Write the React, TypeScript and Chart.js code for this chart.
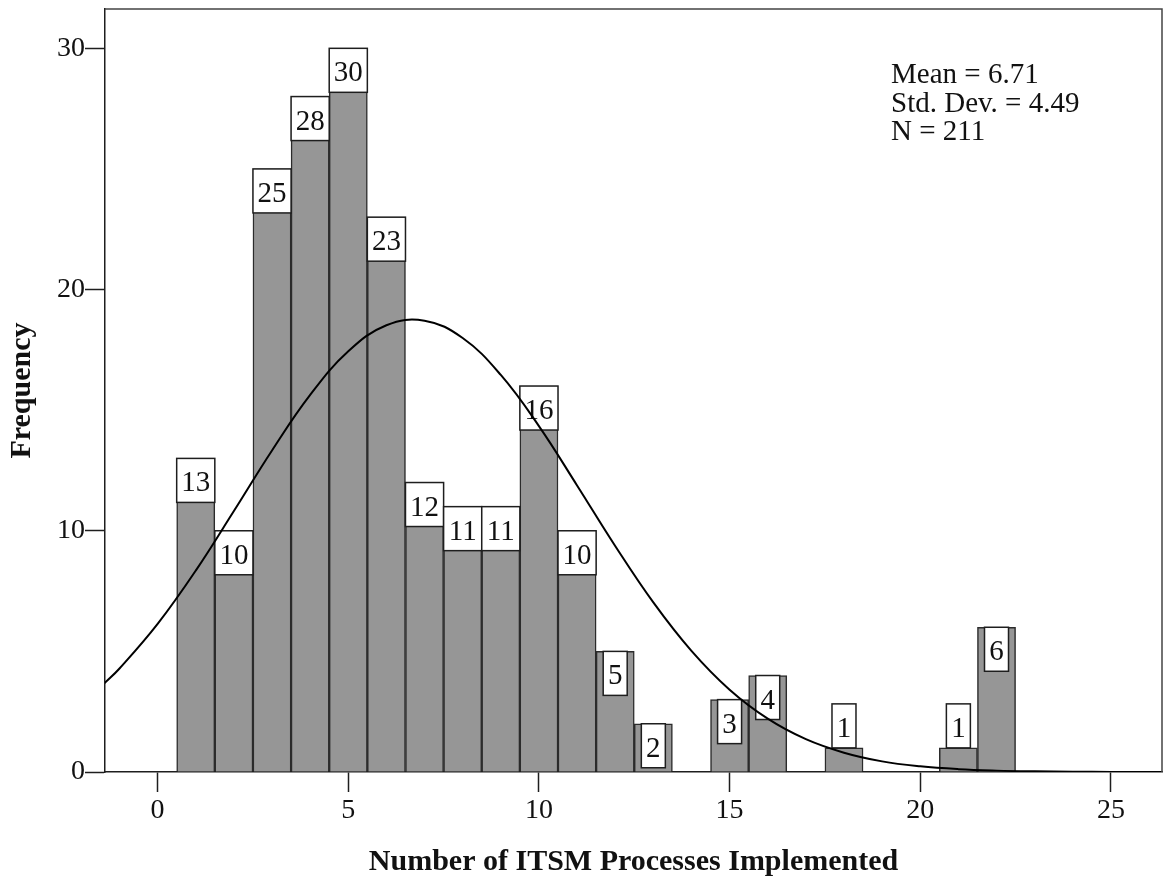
import React, { useEffect, useRef } from "react";
import { Chart, registerables } from "chart.js";

Chart.register(...registerables);

// ---- Data ----
const categories = [1, 2, 3, 4, 5, 6, 7, 8, 9, 10, 11, 12, 13, 14, 15, 16, 17, 18, 19, 20, 21, 22];
const frequencies = [13, 10, 25, 28, 30, 23, 12, 11, 11, 16, 10, 5, 2, 0, 3, 4, 0, 1, 0, 0, 1, 6];

// Normal curve (Mean 6.71, SD 4.49, N 211)
const curveX = [-1.4, -1, 0, 1, 2, 3, 4, 5, 6, 7, 8, 9, 10, 11, 12, 13, 14, 15, 16, 17, 18, 19, 20, 21, 22, 23, 24, 25, 26, 26.4];
const curveY = [3.67, 4.29, 6.14, 8.35, 10.82, 13.33, 15.63, 17.44, 18.52, 18.71, 17.99, 16.46, 14.34, 11.88, 9.37, 7.03, 5.02, 3.41, 2.21, 1.36, 0.8, 0.44, 0.235, 0.118, 0.057, 0.026, 0.011, 0.004, 0.0015, 0.001];

const xTickValues = [0, 5, 10, 15, 20, 25];
const yTickValues = [0, 10, 20, 30];
const statsLines = ["Mean = 6.71", "Std. Dev. = 4.49", "N = 211"];
const xTitle = "Number of ITSM Processes Implemented";
const yTitle = "Frequency";

const SERIF = '"Liberation Serif", "Times New Roman", serif';
const INK = "#1e1e1e";

const labelBoxes = {
  id: "labelBoxes",
  afterDatasetDraw(chart: any, args: any) {
    if (args.index !== 0) return;
    const ctx = chart.ctx;
    const meta = chart.getDatasetMeta(0);
    ctx.save();
    ctx.font = `29px ${SERIF}`;
    ctx.textAlign = "center";
    ctx.textBaseline = "alphabetic";
    ctx.lineWidth = 1.5;
    ctx.strokeStyle = INK;
    meta.data.forEach((bar: any, i: number) => {
      const v = frequencies[i];
      if (!v) return;
      const { x, y, base, width } = bar.getProps(["x", "y", "base", "width"], true);
      const text = String(v);
      const bw = text.length > 1 ? width : 24;
      const bh = 44;
      const top = base - y >= bh ? y : y - bh;
      ctx.fillStyle = "#ffffff";
      ctx.fillRect(x - bw / 2, top, bw, bh);
      ctx.strokeRect(x - bw / 2, top, bw, bh);
      ctx.fillStyle = "#111";
      ctx.fillText(text, x, top + 33);
    });
    ctx.restore();
  },
};

const frameAndStats = {
  id: "frameAndStats",
  afterDraw(chart: any) {
    const ctx = chart.ctx;
    const a = chart.chartArea;
    ctx.save();
    ctx.strokeStyle = "#444";
    ctx.lineWidth = 1.5;
    ctx.beginPath();
    ctx.moveTo(a.left, a.top);
    ctx.lineTo(a.right, a.top);
    ctx.lineTo(a.right, a.bottom);
    ctx.stroke();
    ctx.fillStyle = "#111";
    ctx.font = `29px ${SERIF}`;
    ctx.textAlign = "left";
    ctx.textBaseline = "alphabetic";
    statsLines.forEach((s, i) => ctx.fillText(s, 891, 83 + i * 28.5));
    ctx.restore();
  },
};

export default function App() {
  const ref = useRef<HTMLCanvasElement>(null);
  useEffect(() => {
    if (!ref.current) return;
    const chart = new Chart(ref.current, {
      type: "bar",
      data: {
        datasets: [
          {
            type: "bar",
            data: categories.map((c, i) => ({ x: c, y: frequencies[i] })),
            backgroundColor: "#969696",
            borderColor: "#2b2b2b",
            borderWidth: 1.5,
            barPercentage: 1,
            categoryPercentage: 1,
            order: 2,
          } as any,
          {
            type: "line",
            data: curveX.map((x, i) => ({ x, y: curveY[i] })),
            borderColor: "#000",
            borderWidth: 2,
            pointRadius: 0,
            tension: 0.4,
            fill: false,
            order: 1,
          } as any,
        ],
      },
      options: {
        animation: false,
        responsive: false,
        maintainAspectRatio: false,
        layout: { padding: { top: 9, right: 2, left: 0, bottom: 0 } },
        plugins: { legend: { display: false }, tooltip: { enabled: false } },
        scales: {
          x: {
            type: "linear",
            min: -1.38,
            max: 26.34,
            offset: false,
            grid: { offset: false, drawOnChartArea: false, drawTicks: true, tickLength: 20, tickColor: INK, tickWidth: 1.5 },
            border: { display: true, color: INK, width: 1.5 },
            ticks: { font: { family: SERIF, size: 28 }, color: "#111", padding: 2, maxRotation: 0, autoSkip: false },
            afterBuildTicks: (s: any) => {
              s.ticks = xTickValues.map((v) => ({ value: v }));
            },
            afterFit: (s: any) => {
              s.height = 105;
              s.paddingLeft = 0;
              s.paddingRight = 0;
            },
            title: {
              display: true,
              text: xTitle,
              color: "#111",
              font: { family: SERIF, size: 30, weight: "bold", lineHeight: 1 },
              padding: 0,
            },
          },
          y: {
            type: "linear",
            min: 0,
            max: 31.63,
            grid: { drawOnChartArea: false, drawTicks: true, tickLength: 20, tickColor: INK, tickWidth: 1.5 },
            border: { display: true, color: INK, width: 1.5 },
            ticks: { font: { family: SERIF, size: 28 }, color: "#111", padding: 0 },
            afterBuildTicks: (s: any) => {
              s.ticks = yTickValues.map((v) => ({ value: v }));
            },
            afterFit: (s: any) => {
              s.width = 105;
              s.paddingTop = 0;
              s.paddingBottom = 0;
            },
            title: {
              display: true,
              text: yTitle,
              color: "#111",
              font: { family: SERIF, size: 30, weight: "bold", lineHeight: 1 },
              padding: { top: 7, bottom: 0 },
            },
          },
        },
      },
      plugins: [labelBoxes, frameAndStats],
    });
    return () => chart.destroy();
  }, []);
  return (
    <div style={{ position: "fixed", left: 0, top: 0, width: 1164, height: 877, background: "#fff" }}>
      <canvas ref={ref} width={1164} height={877} style={{ width: 1164, height: 877, display: "block" }} />
    </div>
  );
}
